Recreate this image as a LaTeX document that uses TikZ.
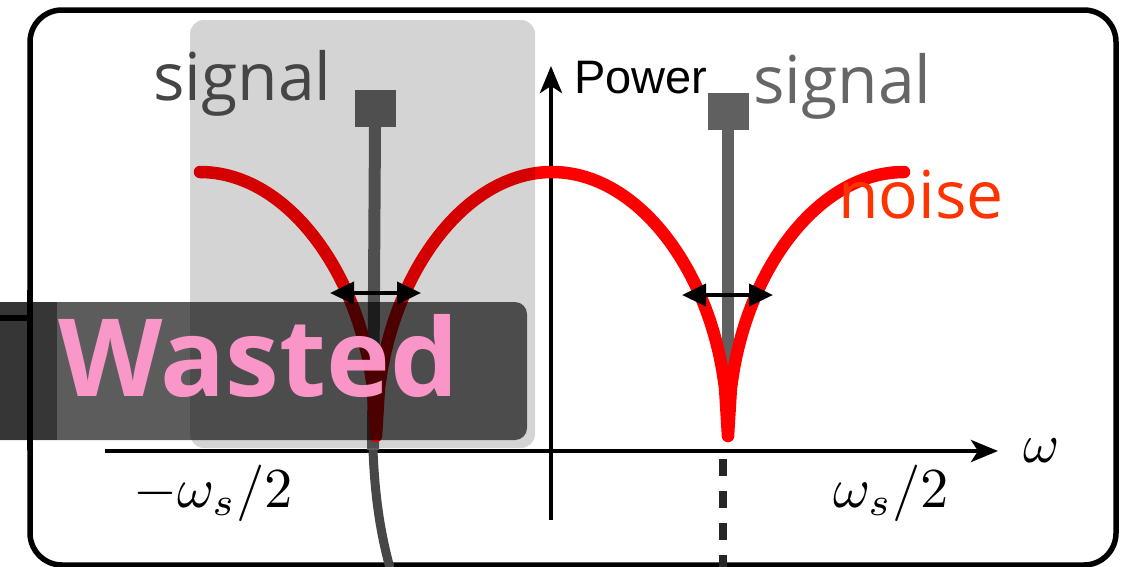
\documentclass[tikz,border=0pt]{standalone}
\usepackage{fontspec}
\usepackage{graphicx}
\setmainfont{Open Sans}
\newfontfamily\arialfont{Liberation Sans}
\usetikzlibrary{arrows.meta}
\definecolor{stemgray}{HTML}{606060}
\definecolor{noisered}{HTML}{FF0000}
\definecolor{noiselabel}{HTML}{FF3300}
\definecolor{wastedpink}{HTML}{FF99CC}
\begin{document}
\begin{tikzpicture}[x=1pt,y=-1pt,
  declare function={nf(\s)=sqrt(\s)*(1+0.15*(1-sqrt(\s)));},
  lbl/.style={inner sep=0pt, anchor=base west},
  sigtext/.style={lbl, font=\fontsize{66}{70}\selectfont},
  mathlbl/.style={lbl},
  stem/.style={draw=stemgray, line width=12pt},
  sigcap/.style={fill=stemgray, draw=none, minimum width=41pt, minimum height=37pt, inner sep=0pt},
  noise/.style={draw=noisered, line width=12.5pt, line cap=round, line join=round},
  widtharrow/.style={line width=4pt, {Triangle[length=24pt,width=22pt]}-{Triangle[length=24pt,width=22pt]}},
  axisline/.style={line width=4.5pt, -{Stealth[length=27pt,width=22pt,inset=7pt]}},
  shade/.style={fill=black, draw=none}
]
\useasboundingbox (0,0) rectangle (1129,566);
\fill[white] (0,0) rectangle (1129,566);

% outer frame
\draw[line width=5.5pt, rounded corners=32pt] (30,10) rectangle (1116,565);

% axes
\coordinate (hx0) at (105,451);
\coordinate (hx1) at (998,451);
\coordinate (vy0) at (551,520);
\coordinate (vy1) at (551,66);
\draw[axisline] (hx0) -- (hx1);
\draw[axisline] (vy0) -- (vy1);

% tick at the right Nyquist edge
\coordinate (dq0) at (723,459);
\coordinate (dq1) at (723,572);
\draw[line width=8pt, draw=black!85, dash pattern=on 17pt off 15pt] (dq0) -- (dq1);

% signal lines with square heads
\node[sigcap] (capL) at (375,108.5) {};
\node[sigcap] (capR) at (728,111) {};
\coordinate (stemLend) at (373,450);
\coordinate (stemRend) at (728,425);
\coordinate (tailL) at (390,568);
\draw[stem] (capL.south) -- (stemLend);
\draw[draw=black!72, line width=9pt] (stemLend) .. controls (375,500) and (381,535) .. (tailL);
\draw[stem] (capR.south) -- (stemRend);

% noise spectrum
\draw[noise] plot[domain=200:904, samples=241]
  (\x, {436-264*nf(abs(sin(0.511364*(\x-376))))});

% linewidth markers
\coordinate (la1) at (330,293);
\coordinate (la2) at (421,293);
\coordinate (ra1) at (682,295);
\coordinate (ra2) at (773,295);
\draw[widtharrow] (la1) -- (la2);
\draw[widtharrow] (ra1) -- (ra2);

% labels
\node[lbl, font=\arialfont\fontsize{47}{50}\selectfont] (power) at (574,93) {Power};
\node[sigtext, text=black!60] (sigR) at (753,103) {signal};
\node[lbl, font=\fontsize{66}{70}\selectfont, text=noiselabel] (noise) at (838,218) {noise};
\node[mathlbl] (wm) at (133,507) {\scalebox{5.65}{$-\omega_s/2$}};
\node[mathlbl] (wp) at (833,507) {\scalebox{5.65}{$\omega_s/2$}};
\node[mathlbl] (w) at (1023,462) {\scalebox{5.5}{$\omega$}};

% shaded band
\fill[shade, fill opacity=0.17, rounded corners=14pt] (190,20) rectangle (535,448);
\node[sigtext, text=black!73] (sigL) at (153,100) {signal};

% wasted banner
\draw[line width=6pt] (0,318) -- (28,318);
\fill[shade, fill opacity=0.64, rounded corners=12pt] (-20,302) rectangle (527,440);
\fill[shade, fill opacity=0.41] (0,302) rectangle (57,440);
\draw[line width=5.5pt] (30,290) -- (30,450);
\node[lbl, font=\bfseries\fontsize{108}{112}\selectfont, text=wastedpink, text opacity=0.97] (wasted) at (58,396) {Wasted};
\end{tikzpicture}
\end{document}
